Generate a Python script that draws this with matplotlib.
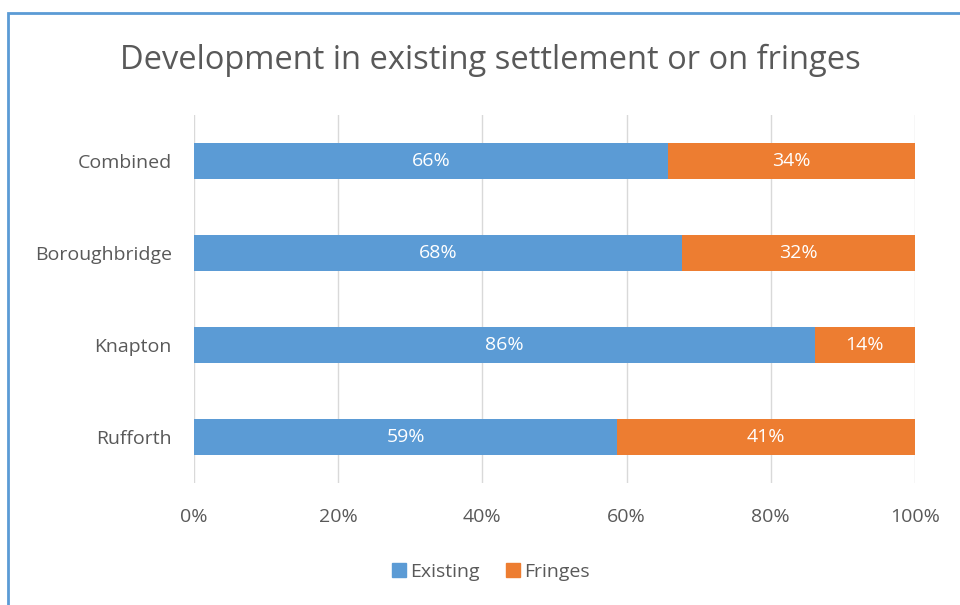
import matplotlib.pyplot as plt
import numpy as np
from matplotlib.patches import Rectangle
from matplotlib.lines import Line2D

plt.rcParams['font.family'] = ['Open Sans', 'DejaVu Sans']

# data
categories = ['Combined', 'Boroughbridge', 'Knapton', 'Rufforth']
existing = [65.7, 67.7, 86.1, 58.7]
fringes = [34.3, 32.3, 13.9, 41.3]
existing_labels = ['66%', '68%', '86%', '59%']
fringes_labels = ['34%', '32%', '14%', '41%']

blue = '#5B9BD5'
orange = '#ED7D31'
text_col = '#595959'

fig = plt.figure(figsize=(9.6, 6.05), dpi=100)
ax = fig.add_axes([0.2021, 0.2017, 0.7510, 0.6082])

y = np.arange(len(categories))
h = 0.4
b1 = ax.barh(y, existing, height=h, color=blue, label='Existing', zorder=3)
b2 = ax.barh(y, fringes, left=existing, height=h, color=orange, label='Fringes', zorder=3)

for bar, lab in zip(b1, existing_labels):
    ax.text(bar.get_x() + bar.get_width() / 2, bar.get_y() + bar.get_height() / 2, lab,
            ha='center', va='center', color='white', fontsize=14, zorder=4)
for bar, lab in zip(b2, fringes_labels):
    ax.text(bar.get_x() + bar.get_width() / 2, bar.get_y() + bar.get_height() / 2, lab,
            ha='center', va='center', color='white', fontsize=14, zorder=4)

ax.set_xlim(0, 100)
ax.set_ylim(len(categories) - 0.5, -0.5)
ax.set_yticks(y)
ax.set_yticklabels(categories, fontsize=14, color=text_col)
ax.set_xticks(np.arange(0, 101, 20))
ax.set_xticklabels([f'{v}%' for v in range(0, 101, 20)], fontsize=14, color=text_col)
ax.tick_params(axis='both', length=0)
ax.tick_params(axis='x', pad=18)
ax.tick_params(axis='y', pad=16)
ax.grid(axis='x', color='#D9D9D9', linewidth=1, zorder=0)
for s in ax.spines.values():
    s.set_visible(False)

fig.text(0.511, 0.90, 'Development in existing settlement or on fringes',
         ha='center', va='center', fontsize=23.5, color=text_col)

handles = [Line2D([], [], marker='s', linestyle='none', markersize=10, color=blue),
           Line2D([], [], marker='s', linestyle='none', markersize=10, color=orange)]
fig.legend(handles, ['Existing', 'Fringes'], loc='center', bbox_to_anchor=(0.51, 0.055),
           ncol=2, frameon=False, fontsize=14, labelcolor=text_col,
           handletextpad=0.1, columnspacing=1.2, handlelength=1.0)

# chart border (only left and top visible in the crop)
fig.add_artist(Rectangle((8 / 960, -0.1), 1.2, 1 - 13 / 605 + 0.1, transform=fig.transFigure,
                         fill=False, edgecolor='#5B9BD5', linewidth=2))

fig.savefig('out.png', dpi=100, facecolor='white')
